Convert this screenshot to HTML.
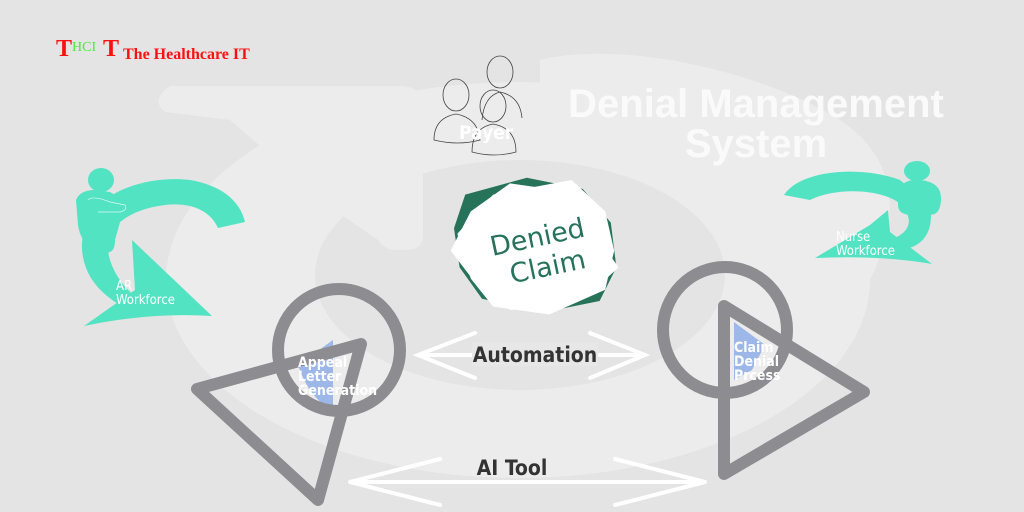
<!DOCTYPE html>
<html><head><meta charset="utf-8"><style>
html,body{margin:0;padding:0;background:#e4e4e4;}
svg{display:block}
.cn{font-family:"Liberation Sans Narrow","DejaVu Sans Condensed","Liberation Sans",sans-serif;}
</style></head><body>
<svg width="1024" height="512" viewBox="0 0 1024 512" xmlns="http://www.w3.org/2000/svg">
<rect width="1024" height="512" fill="#e4e4e4"/>
<path d="M540 60 C620 40 760 70 840 120 C900 160 900 220 870 280 L720 200 C680 160 620 150 540 160 Z" fill="#ececec"/>
<ellipse cx="518" cy="280" rx="352" ry="198" fill="#ececec"/>
<ellipse cx="520" cy="275" rx="205" ry="115" fill="#e4e4e4"/>
<path d="M170 86 L400 86 Q423 86 423 108 L423 236 Q423 250 405 250 L395 250 Q385 250 378 240 L333 209 L230 120 L165 112 Q150 100 170 86 Z" fill="#ececec"/>
<!-- logo -->
<text x="56" y="56" font-family="Liberation Serif,serif" font-weight="bold" font-size="24" fill="#ff1010">T</text>
<text x="72" y="51" font-family="Liberation Serif,serif" font-size="14" fill="#44ee33">HCI</text>
<text x="103" y="56" font-family="Liberation Serif,serif" font-weight="bold" font-size="24" fill="#ff1010">T</text>
<text x="123" y="59" font-family="Liberation Serif,serif" font-weight="bold" font-size="16" fill="#ff1010">The Healthcare IT</text>
<!-- payer people -->
<g fill="none" stroke="#444" stroke-width="0.8">
<ellipse cx="456" cy="95" rx="13" ry="16"/><path d="M434 140 Q434 118 456 114 Q478 118 480 140 Q458 146 434 140Z"/>
<ellipse cx="500" cy="72" rx="13" ry="16"/><path d="M482 120 Q484 96 500 92 Q520 96 522 118"/>
<ellipse cx="493" cy="106" rx="13" ry="16"/><path d="M472 152 Q472 128 493 124 Q516 128 516 152 Q494 158 472 152Z"/>
</g>
<text x="459" y="139" class="cn" font-weight="bold" font-size="19" fill="#fff">Payer</text>
<text x="756" y="117" text-anchor="middle" font-family="Liberation Sans,sans-serif" font-weight="bold" font-size="40" fill="#fafafa">Denial Management</text>
<text x="756" y="157" text-anchor="middle" font-family="Liberation Sans,sans-serif" font-weight="bold" font-size="40" fill="#fafafa">System</text>
<!-- AR workforce -->
<g fill="#52e3c2">
<path d="M82 250 C80 190 150 175 190 180 C220 185 240 200 245 222 L218 228 C210 210 190 202 165 205 C125 210 105 230 108 250 C110 270 125 290 140 300 L120 305 C95 290 84 272 82 250Z"/>
<path d="M132 240 L212 316 Q150 312 84 326 L135 290 Z"/>
<ellipse cx="101" cy="180" rx="13" ry="12"/>
<path d="M76 200 Q80 190 95 190 L110 192 Q125 200 122 215 L115 240 Q115 250 110 252 Q98 256 92 250 Q80 240 78 225Z"/>
</g>
<path d="M88 200 Q92 195 110 202 L125 205 Q128 210 120 212 L98 212" fill="none" stroke="#fff" stroke-width="0.7" opacity="0.8"/>
<text x="116" y="290" class="cn" font-size="13" fill="#fff">AR</text>
<text x="116" y="304" class="cn" font-size="13" fill="#fff">Workforce</text>
<!-- Nurse workforce -->
<g fill="#52e3c2">
<path d="M784 195 C800 170 860 165 900 180 L930 205 C935 235 920 250 895 250 L880 242 C905 238 915 225 905 210 C895 190 840 185 810 200 Z"/>
<path d="M888 210 L890 232 L932 264 Q880 255 815 258 L870 225 Z"/>
<ellipse cx="917" cy="171" rx="13" ry="10"/>
<path d="M898 190 Q905 178 920 180 Q942 182 941 200 Q940 218 926 214 L910 215 Q898 214 898 205Z"/>
</g>
<text x="836" y="241" class="cn" font-size="13" fill="#fff">Nurse</text>
<text x="836" y="255" class="cn" font-size="13" fill="#fff">Workforce</text>
<!-- Denied claim badge -->
<g transform="translate(538,245) scale(1.12)">
<polygon points="-65,-45 -10,-60 40,-50 65,-20 70,20 55,50 5,60 -50,48 -70,20 -75,-15" fill="#27735a"/>
<polygon points="-60,-30 -25,-55 10,-50 45,-42 52,-8 72,20 50,40 20,55 -25,58 -55,35 -78,5" fill="#fff"/>
<polygon points="-72,-10 -40,-45 30,-58 60,-30 68,5 60,40 10,62 -40,55 -60,30" fill="#fff"/>
</g>
<g transform="translate(540,250) rotate(-12)">
<text x="0" y="-4" text-anchor="middle" font-family="DejaVu Sans,sans-serif" font-size="27" fill="#27735a">Denied</text>
<text x="4" y="27" text-anchor="middle" font-family="DejaVu Sans,sans-serif" font-size="27" fill="#27735a">Claim</text>
</g>
<!-- Appeal letter -->
<path d="M298 365 L333 340 L333 410 Q310 400 298 365Z" fill="#9db8e8"/>
<ellipse cx="339" cy="350" rx="61" ry="61" fill="none" stroke="#8c8c91" stroke-width="12"/>
<path d="M361 344 L197 389 L318 500 Z" fill="none" stroke="#8c8c91" stroke-width="12" stroke-linejoin="round"/>
<text class="cn" font-weight="bold" font-size="14" fill="#fff"><tspan x="298" y="367">Appeal</tspan><tspan x="298" y="381">Letter</tspan><tspan x="298" y="395">Generation</tspan></text>
<!-- Claim denial -->
<path d="M734 322 L765 345 L752 370 L734 380Z" fill="#9db8e8"/>
<ellipse cx="725" cy="330" rx="62" ry="63" fill="none" stroke="#8c8c91" stroke-width="12"/>
<path d="M724 306 L864 392 L724 474 Z" fill="none" stroke="#8c8c91" stroke-width="12" stroke-linejoin="round"/>
<text class="cn" font-weight="bold" font-size="14" fill="#fff"><tspan x="734" y="352">Claim</tspan><tspan x="734" y="366">Denial</tspan><tspan x="734" y="380">Prcess</tspan></text>
<!-- arrows -->
<g stroke="#fff" stroke-width="4" fill="none" stroke-linecap="round">
<path d="M475 333 L418 355 L475 378"/><path d="M590 333 L645 355 L590 378"/>
<path d="M418 355 L645 355"/>
<path d="M440 459 L350 482 L440 505"/><path d="M615 459 L705 482 L615 505"/>
<path d="M350 482 L705 482"/>
</g>
<rect x="472" y="342" width="126" height="24" fill="#e7e7e7"/>
<text x="535" y="362" text-anchor="middle" class="cn" font-weight="bold" font-size="21" fill="#333">Automation</text>
<text x="512" y="475" text-anchor="middle" class="cn" font-weight="bold" font-size="21" fill="#333">AI Tool</text>
</svg>
</body></html>
